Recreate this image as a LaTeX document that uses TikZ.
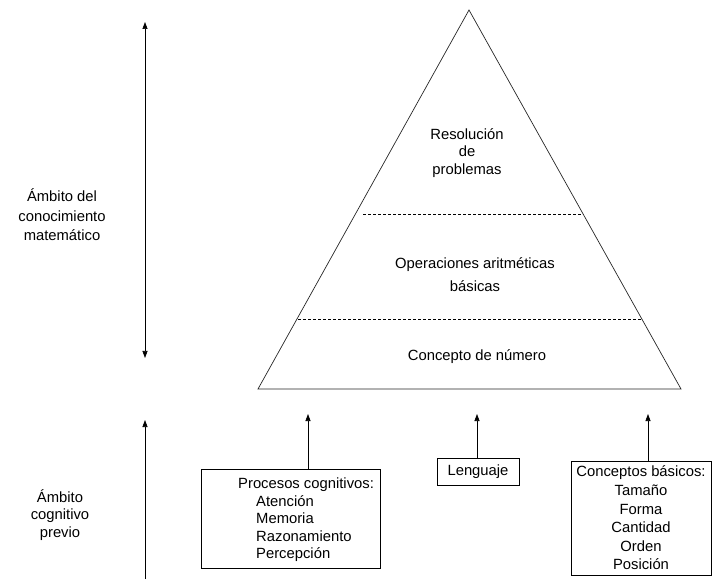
\documentclass[tikz,border=0pt]{standalone}
\usepackage{fontspec}
\setmainfont{Liberation Sans}
\usetikzlibrary{arrows.meta}
\begin{document}
\begin{tikzpicture}[x=1pt,y=-1pt,
  lbl/.style={font=\fontsize{14.8}{17.5}\selectfont, align=center, inner sep=0pt},
  boxn/.style={draw, line width=0.7pt, font=\fontsize{14.8}{18.6}\selectfont, align=center, inner sep=0pt},
  arr/.style={-{Triangle[length=7pt,width=5pt]}, line width=0.7pt},
  darr/.style={{Triangle[length=7pt,width=5pt]}-{Triangle[length=7pt,width=5pt]}, line width=0.7pt},
  tri/.style={line width=0.7pt, draw=black!85},
  dashln/.style={line width=0.6pt, dash pattern=on 3pt off 2pt}
]
\useasboundingbox (0,0) rectangle (713,580);

% pyramid
\coordinate (apex) at (469,10);
\coordinate (bl) at (258,389);
\coordinate (br) at (681,389);
\draw[tri] (apex) -- (bl) -- (br) -- cycle;
\coordinate (d1l) at (363,214);
\coordinate (d1r) at (583,214);
\coordinate (d2l) at (298,319);
\coordinate (d2r) at (642,319);
\draw[dashln] (d1l) -- (d1r);
\draw[dashln] (d2l) -- (d2r);

\node[lbl] (res) at (467,153) {Resolución\\de\\problemas};
\node[lbl] (ops) at (475,275) {Operaciones aritméticas\\[5.5pt]básicas};
\node[lbl] (num) at (477,357) {Concepto de número};

% left side
\coordinate (a1t) at (145,22);
\coordinate (a1b) at (145,358);
\draw[darr] (a1b) -- (a1t);
\coordinate (a2t) at (145,420);
\coordinate (a2b) at (145,579);
\draw[arr] (a2b) -- (a2t);

\node[lbl] (amb1) at (62,215) {Ámbito del\\[2pt]conocimiento\\[2pt]matemático};
\node[lbl] (amb2) at (60,515) {Ámbito\\cognitivo\\previo};

% boxes
\node[boxn, minimum width=179, minimum height=99, anchor=north west] (proc) at (201,469) {};
\node[lbl, align=left, anchor=north west] (proct) at (238,478)
  {Procesos cognitivos:\\\hspace*{18pt}Atención\\\hspace*{18pt}Memoria\\\hspace*{18pt}Razonamiento\\\hspace*{18pt}Percepción};
\node[boxn, minimum width=82, minimum height=27] (len) at (478,471.5) {Lenguaje};
\node[boxn, minimum width=140, minimum height=114] (conc) at (641,518)
  {Conceptos básicos:\\Tamaño\\Forma\\Cantidad\\Orden\\Posición};

\coordinate (p1) at (308,414);
\coordinate (p2) at (477,414);
\coordinate (p3) at (648,414);
\draw[arr] (p1 |- proc.north) -- (p1);
\draw[arr] (p2 |- len.north) -- (p2);
\draw[arr] (p3 |- conc.north) -- (p3);
\end{tikzpicture}
\end{document}
